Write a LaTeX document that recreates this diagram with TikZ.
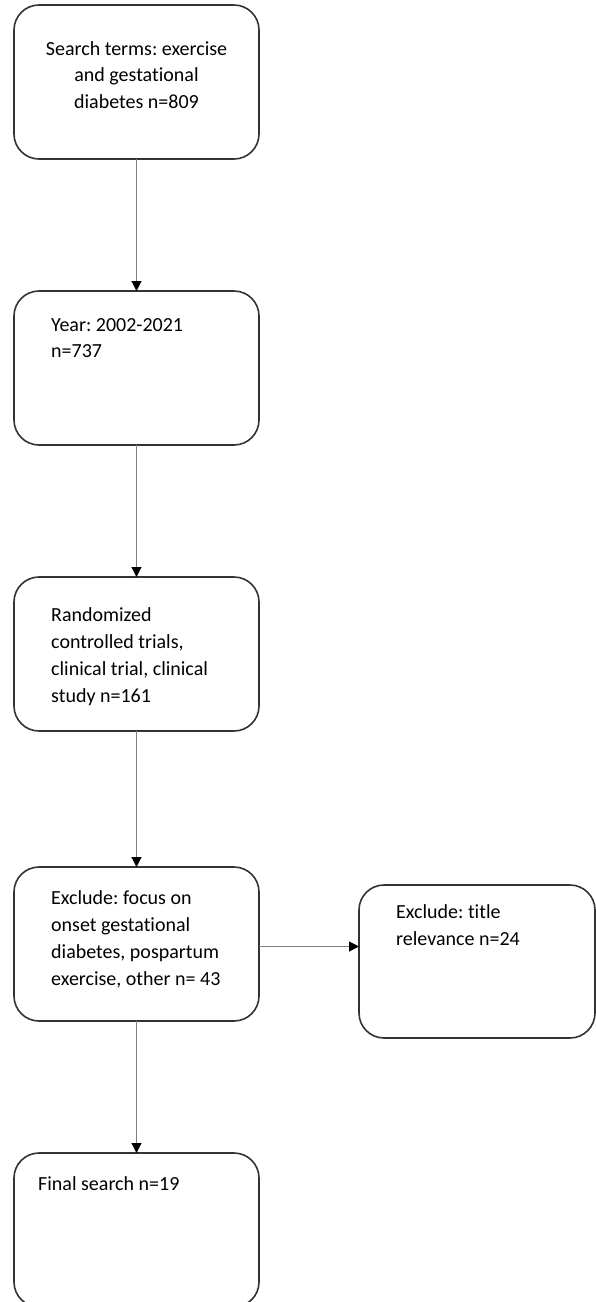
\documentclass[tikz,border=0pt]{standalone}
\usepackage{fontspec}
\setmainfont[Ligatures=NoCommon]{Carlito}
\usepackage{tikz}
\usetikzlibrary{positioning,arrows.meta,calc}
\frenchspacing

\tikzset{
  stage/.style={draw=black!80,line width=1.6pt,rounded corners=25pt,outer sep=0pt,
    minimum width=245pt,minimum height=154pt,anchor=north west},
  stagetext/.style={inner sep=0pt,align=left,anchor=base west,
    font=\fontsize{20}{26.7}\selectfont},
  flow/.style={draw=black!50,line width=1.1pt,-{Triangle[length=10pt,width=10pt,black]}}
}

\begin{document}
\begin{tikzpicture}[x=1pt,y=-1pt]
  \useasboundingbox (0,0) rectangle (595,1302);
  % boxes
  \node[stage] (terms) at (14,5) {};
  \node[stage] (years) at (14,291) {};
  \node[stage] (rct) at (14,577) {};
  \node[stage] (excl) at (14,867) {};
  \node[stage,minimum width=236pt,minimum height=153pt] (title) at (359,885) {};
  \node[stage] (final) at (14,1153) {};
  % texts (placed by the baseline of their last line)
  \node[stagetext,align=center,anchor=base] (termstext) at (136.5,108.5)
    {Search terms: exercise\\and gestational\\diabetes n=809};
  \node[stagetext] (yearstext) at (51,357.7) {Year: 2002-2021\\n=737};
  \node[stagetext] (rcttext) at (51,702)
    {Randomized\\controlled trials,\\clinical trial, clinical\\study n=161};
  \node[stagetext] (excltext) at (51,985)
    {Exclude: focus on\\onset gestational\\diabetes, pospartum\\exercise, other n= 43};
  \node[stagetext] (titletext) at (396,945) {Exclude: title\\relevance n=24};
  \node[stagetext] (finaltext) at (38,1190) {Final search n=19};
  % arrows
  \draw[flow] (terms) -- (years);
  \draw[flow] (years) -- (rct);
  \draw[flow] (rct) -- (excl);
  \draw[flow] (excl) -- (final);
  \draw[flow] ($(excl.east)+(0,2.5)$) -- ($(excl.east -| title.west)+(0,2.5)$);
\end{tikzpicture}
\end{document}
